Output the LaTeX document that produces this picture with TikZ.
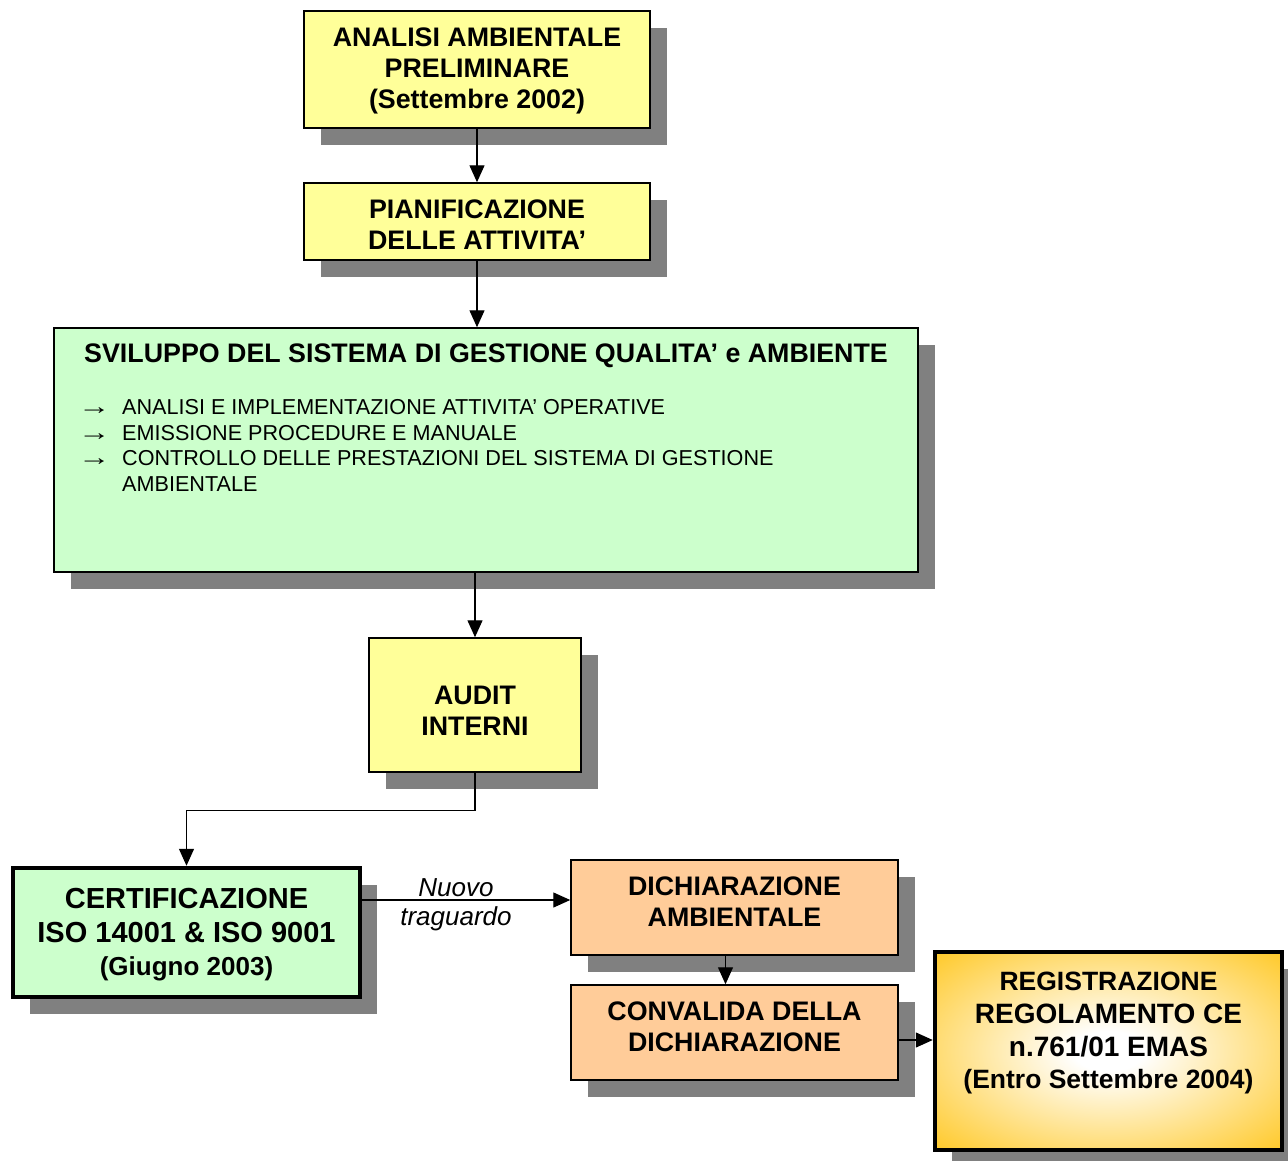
\documentclass[tikz,border=0pt]{standalone}
\usepackage{fontspec}
\setmainfont{Liberation Sans}
\usetikzlibrary{shadows,arrows.meta}
\definecolor{boxyellow}{HTML}{FFFF99}
\definecolor{boxgreen}{HTML}{CCFFCC}
\definecolor{boxorange}{HTML}{FFCC99}
\definecolor{shadowgray}{HTML}{808080}
\definecolor{goldc}{HTML}{FFC825}
\pgfdeclareradialshading{goldglow}{\pgfpoint{0bp}{0bp}}{color(0bp)=(white); color(5bp)=(white); color(36bp)=(goldc); color(50bp)=(goldc); color(100bp)=(goldc)}
\tikzset{
  box/.style={draw=black, line width=1.5pt, inner sep=0pt,
    drop shadow={shadow xshift=17pt, shadow yshift=-17pt, fill=shadowgray, opacity=1}},
  thickbox/.style={box, line width=4.5pt},
  boxtext/.style={inner sep=0pt, align=center, font=\bfseries\fontsize{26.8}{31}\selectfont},
  plaintext/.style={inner sep=0pt, align=center},
  conn/.style={draw=black, line width=1.3pt, -{Triangle[length=17pt,width=15pt]}}
}
\newcommand{\bularrow}{\makebox[44pt][l]{\scalebox{1.5}[1.1]{→}}}
\begin{document}
\begin{tikzpicture}[x=1pt,y=-1pt]
\useasboundingbox[fill=white] (0,0) rectangle (1288,1160);

% boxes
\node[box, fill=boxyellow, minimum width=346pt, minimum height=117pt] (analisi) at (477,69.5) {};
\node[box, fill=boxyellow, minimum width=346pt, minimum height=77pt] (pian) at (477,221.5) {};
\node[box, fill=boxgreen, minimum width=864pt, minimum height=244pt] (svil) at (486,450) {};
\node[box, fill=boxyellow, minimum width=212pt, minimum height=134pt] (audit) at (475,705) {};
\node[thickbox, fill=boxgreen, minimum width=347pt, minimum height=129pt] (cert) at (186.5,932.5) {};
\node[box, fill=boxorange, minimum width=327pt, minimum height=95pt] (dich) at (734.5,907.5) {};
\node[box, fill=boxorange, minimum width=327pt, minimum height=95pt] (conv) at (734.5,1032.5) {};
\node[thickbox, shading=goldglow, minimum width=347pt, minimum height=198pt] (reg) at (1108.5,1051) {};

% texts
\node[boxtext] (analisit) at (477,71) {ANALISI AMBIENTALE\\PRELIMINARE\\(Settembre 2002)};
\node[boxtext] (piant) at (477,224.5) {PIANIFICAZIONE\\DELLE ATTIVITA’};
\node[boxtext] (sviltitle) at (486,356)
  {SVILUPPO DEL SISTEMA DI GESTIONE QUALITA’ e AMBIENTE};
\node[plaintext, anchor=north west, align=left, font=\fontsize{21.6}{25.5}\selectfont] (svillist) at (78,399.5)
  {\bularrow ANALISI E IMPLEMENTAZIONE ATTIVITA’ OPERATIVE\\
   \bularrow EMISSIONE PROCEDURE E MANUALE\\
   \bularrow CONTROLLO DELLE PRESTAZIONI DEL SISTEMA DI GESTIONE\\
   \makebox[44pt][l]{}AMBIENTALE};
\node[boxtext] (auditt) at (475,710.5) {AUDIT\\INTERNI};
\node[boxtext, font=\bfseries\fontsize{29}{34}\selectfont] (certt) at (186.5,934.5)
  {CERTIFICAZIONE\\ISO 14001 \& ISO 9001\\[-1pt]{\fontsize{26}{30}\selectfont (Giugno 2003)}};
\node[boxtext] (dicht) at (734.5,902) {DICHIARAZIONE\\AMBIENTALE};
\node[boxtext] (convt) at (734.5,1026.5) {CONVALIDA DELLA\\DICHIARAZIONE};
\node[boxtext, font=\bfseries\fontsize{28}{33}\selectfont] (regt) at (1108.5,1033)
  {{\fontsize{26.5}{30}\selectfont REGISTRAZIONE}\\REGOLAMENTO CE\\n.761/01 EMAS\\[-1pt]{\fontsize{26.5}{30}\selectfont (Entro Settembre 2004)}};

% connectors
\draw[conn] (analisi.south) -- (pian.north);
\draw[conn] (pian.south) -- (pian.south |- svil.north);
\draw[conn] (audit.north |- svil.south) -- (audit.north);
\draw[conn] (audit.south) -- ++(0,38) -| (cert.north);
\coordinate (dichin) at ([yshift=7.5pt]dich.west);
\draw[conn] (cert.east |- dichin) -- (dichin);
\node[plaintext, font=\itshape\fontsize{26}{29}\selectfont] (nuovo) at (456,905) {Nuovo\\traguardo};
\draw[conn] ([xshift=-9pt]dich.south) -- ([xshift=-9pt]conv.north);
\coordinate (convout) at ([yshift=-7.5pt]conv.east);
\draw[conn] (convout) -- (reg.west |- convout);
\end{tikzpicture}
\end{document}
